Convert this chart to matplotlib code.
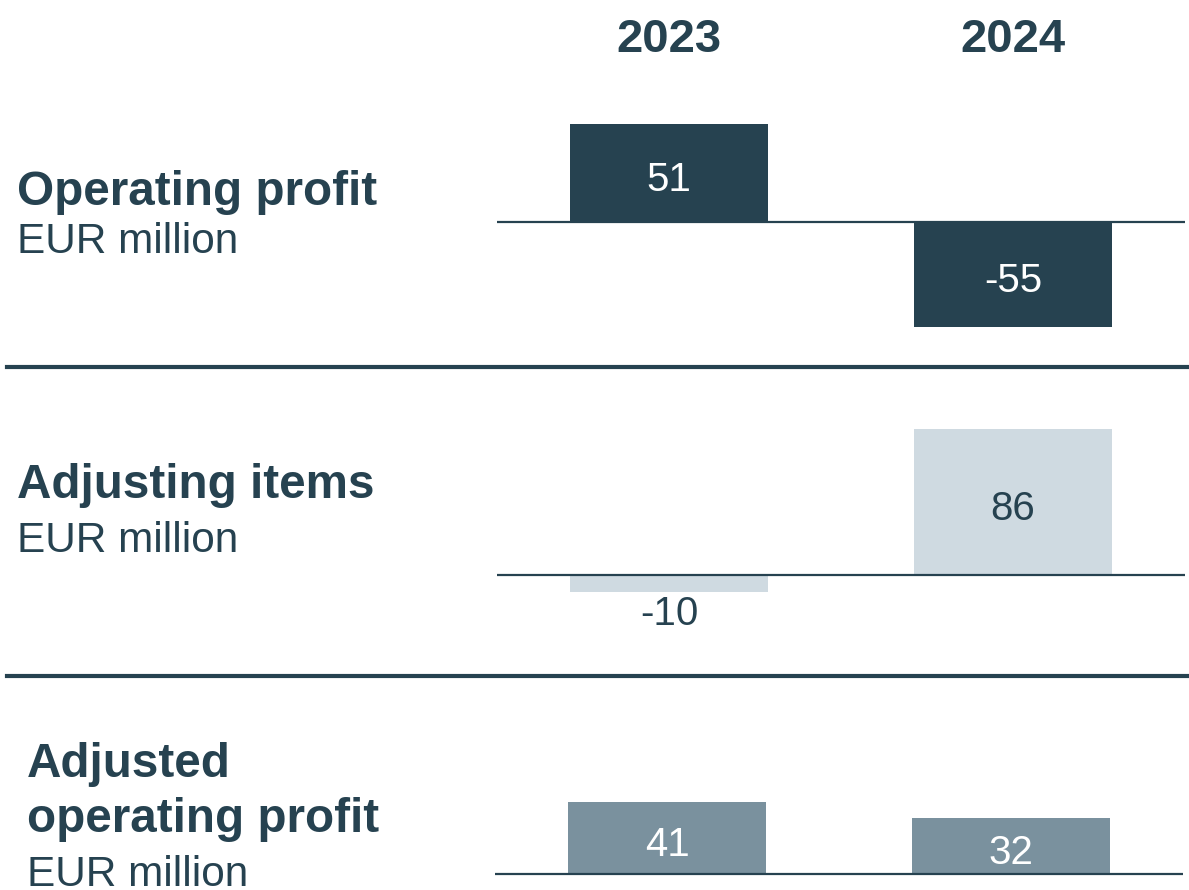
import matplotlib.pyplot as plt
from matplotlib.lines import Line2D

# Colours taken from the report style
dark_teal = '#264250'
light_blue = '#cfdae1'
mid_grey = '#7a919e'

plt.rcParams['font.family'] = ['Liberation Sans', 'DejaVu Sans']

# Data (EUR million)
years = ['2023', '2024']
operating_profit = [51, -55]
adjusting_items = [-10, 86]
adjusted_operating_profit = [41, 32]

W, H = 1189, 890


def px_box(left, top, right, bottom):
    """Convert a pixel box (top-left origin) to figure fractions for add_axes."""
    return [left / W, 1 - bottom / H, (right - left) / W, (bottom - top) / H]


def draw_row(fig, box, values, color, text_colors, ylim):
    """
    Draw one row of the bridge: two bars on a zero baseline with value labels

    Args:
    - fig: the figure
    - box: pixel box of the axes
    - values: bar values
    - color: bar colour
    - text_colors: label colour for each bar
    - ylim: y limits of the row
    """
    ax = fig.add_axes(px_box(*box))
    x = list(range(len(values)))
    bars = ax.bar(x, values, width=0.573, color=color, zorder=2)
    ax.axhline(0, color=dark_teal, linewidth=1.6, zorder=3)
    ax.set_xlim(-0.5, 1.5)
    ax.set_ylim(*ylim)
    ax.axis('off')

    for bar, value, tc in zip(bars, values, text_colors):
        cx = bar.get_x() + bar.get_width() / 2
        # small bars get the label outside, below the bar
        if abs(value) < 20:
            ax.annotate(f'{value}', xy=(cx, value), xytext=(0, -16),
                        textcoords='offset points', ha='center', va='center',
                        color=dark_teal, fontsize=29)
        else:
            ax.annotate(f'{value}', xy=(cx, value / 2), xytext=(0, -2),
                        textcoords='offset points', ha='center',
                        va='center_baseline', color=tc, fontsize=29)
    return ax


fig = plt.figure(figsize=(W / 100, H / 100), dpi=100)
fig.patch.set_facecolor('white')

# Year headers
for i, year in enumerate(years):
    fig.text((669 + 344 * i) / W, 1 - 52 / H, year, ha='center', va='baseline',
             fontsize=34, fontweight='bold', color=dark_teal)

# Rows of bars
draw_row(fig, (497, 100, 1185, 350), operating_profit, dark_teal,
         ['white', 'white'], (-(350 - 222) / 1.915, (222 - 100) / 1.915))
draw_row(fig, (497, 400, 1185, 660), adjusting_items, light_blue,
         [dark_teal, dark_teal], (-(660 - 575) / 1.7, (575 - 400) / 1.7))
draw_row(fig, (495, 700, 1183, 885), adjusted_operating_profit, mid_grey,
         ['white', 'white'], (-(885 - 874) / 1.76, (874 - 700) / 1.76))

# Row titles
row_labels = [
    (17, 205, 'Operating profit', 'bold', 34.3),
    (17, 253, 'EUR million', 'normal', 30.5),
    (17, 498, 'Adjusting items', 'bold', 34.3),
    (17, 552, 'EUR million', 'normal', 30.5),
    (27, 777, 'Adjusted', 'bold', 34.3),
    (27, 832, 'operating profit', 'bold', 34.3),
    (27, 886, 'EUR million', 'normal', 30.5),
]
for x, y, label, weight, size in row_labels:
    fig.text(x / W, 1 - y / H, label, ha='left', va='baseline',
             fontsize=size, fontweight=weight, color=dark_teal)

# Separator lines between rows
for y in (367, 676):
    fig.add_artist(Line2D([7 / W, 1], [1 - y / H, 1 - y / H],
                          color=dark_teal, linewidth=3))

fig.savefig('out.png', dpi=100)
